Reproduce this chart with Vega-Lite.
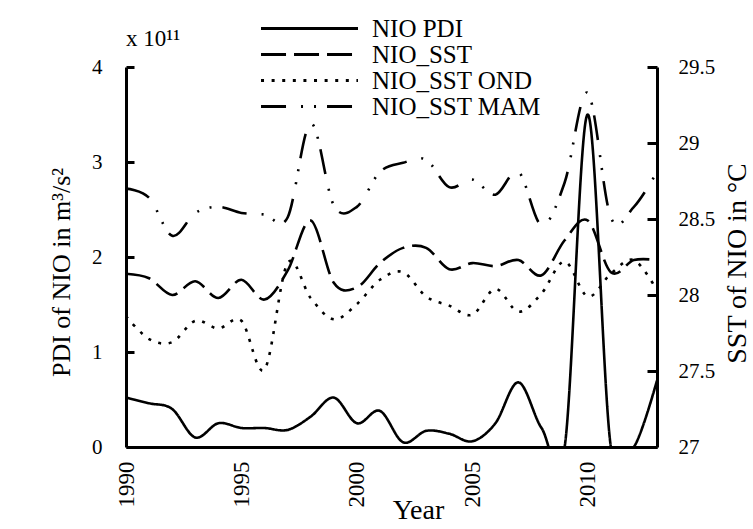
{
  "$schema": "https://vega.github.io/schema/vega-lite/v6.json",
  "autosize": "none",
  "width": 531,
  "height": 380,
  "padding": {"left": 126, "top": 67, "right": 96, "bottom": 82},
  "background": "white",
  "title": {"text": "x 10¹¹", "anchor": "start", "frame": "group", "font": "Liberation Serif", "fontSize": 23, "fontWeight": "normal", "color": "black", "offset": 0, "dy": 35},
  "data": {"values": [
    {"year": 1990, "series": "NIO PDI", "value": 0.52},
    {"year": 1991, "series": "NIO PDI", "value": 0.46},
    {"year": 1992, "series": "NIO PDI", "value": 0.40},
    {"year": 1993, "series": "NIO PDI", "value": 0.10},
    {"year": 1994, "series": "NIO PDI", "value": 0.25},
    {"year": 1995, "series": "NIO PDI", "value": 0.20},
    {"year": 1996, "series": "NIO PDI", "value": 0.20},
    {"year": 1997, "series": "NIO PDI", "value": 0.18},
    {"year": 1998, "series": "NIO PDI", "value": 0.32},
    {"year": 1999, "series": "NIO PDI", "value": 0.52},
    {"year": 2000, "series": "NIO PDI", "value": 0.25},
    {"year": 2001, "series": "NIO PDI", "value": 0.38},
    {"year": 2002, "series": "NIO PDI", "value": 0.05},
    {"year": 2003, "series": "NIO PDI", "value": 0.17},
    {"year": 2004, "series": "NIO PDI", "value": 0.14},
    {"year": 2005, "series": "NIO PDI", "value": 0.06},
    {"year": 2006, "series": "NIO PDI", "value": 0.25},
    {"year": 2007, "series": "NIO PDI", "value": 0.68},
    {"year": 2008, "series": "NIO PDI", "value": 0.20},
    {"year": 2009, "series": "NIO PDI", "value": 0.0},
    {"year": 2010, "series": "NIO PDI", "value": 3.5},
    {"year": 2011, "series": "NIO PDI", "value": 0.0},
    {"year": 2012, "series": "NIO PDI", "value": 0.0},
    {"year": 2013, "series": "NIO PDI", "value": 0.7},
    {"year": 1990, "series": "NIO_SST", "value": 28.14},
    {"year": 1991, "series": "NIO_SST", "value": 28.11},
    {"year": 1992, "series": "NIO_SST", "value": 28.00},
    {"year": 1993, "series": "NIO_SST", "value": 28.09},
    {"year": 1994, "series": "NIO_SST", "value": 27.98},
    {"year": 1995, "series": "NIO_SST", "value": 28.10},
    {"year": 1996, "series": "NIO_SST", "value": 27.97},
    {"year": 1997, "series": "NIO_SST", "value": 28.16},
    {"year": 1998, "series": "NIO_SST", "value": 28.49},
    {"year": 1999, "series": "NIO_SST", "value": 28.08},
    {"year": 2000, "series": "NIO_SST", "value": 28.05},
    {"year": 2001, "series": "NIO_SST", "value": 28.21},
    {"year": 2002, "series": "NIO_SST", "value": 28.31},
    {"year": 2003, "series": "NIO_SST", "value": 28.31},
    {"year": 2004, "series": "NIO_SST", "value": 28.17},
    {"year": 2005, "series": "NIO_SST", "value": 28.21},
    {"year": 2006, "series": "NIO_SST", "value": 28.19},
    {"year": 2007, "series": "NIO_SST", "value": 28.23},
    {"year": 2008, "series": "NIO_SST", "value": 28.13},
    {"year": 2009, "series": "NIO_SST", "value": 28.36},
    {"year": 2010, "series": "NIO_SST", "value": 28.49},
    {"year": 2011, "series": "NIO_SST", "value": 28.15},
    {"year": 2012, "series": "NIO_SST", "value": 28.23},
    {"year": 2013, "series": "NIO_SST", "value": 28.23},
    {"year": 1990, "series": "NIO_SST OND", "value": 27.86},
    {"year": 1991, "series": "NIO_SST OND", "value": 27.71},
    {"year": 1992, "series": "NIO_SST OND", "value": 27.69},
    {"year": 1993, "series": "NIO_SST OND", "value": 27.83},
    {"year": 1994, "series": "NIO_SST OND", "value": 27.78},
    {"year": 1995, "series": "NIO_SST OND", "value": 27.83},
    {"year": 1996, "series": "NIO_SST OND", "value": 27.51},
    {"year": 1997, "series": "NIO_SST OND", "value": 28.21},
    {"year": 1998, "series": "NIO_SST OND", "value": 27.98},
    {"year": 1999, "series": "NIO_SST OND", "value": 27.84},
    {"year": 2000, "series": "NIO_SST OND", "value": 27.94},
    {"year": 2001, "series": "NIO_SST OND", "value": 28.10},
    {"year": 2002, "series": "NIO_SST OND", "value": 28.15},
    {"year": 2003, "series": "NIO_SST OND", "value": 27.99},
    {"year": 2004, "series": "NIO_SST OND", "value": 27.93},
    {"year": 2005, "series": "NIO_SST OND", "value": 27.87},
    {"year": 2006, "series": "NIO_SST OND", "value": 28.04},
    {"year": 2007, "series": "NIO_SST OND", "value": 27.89},
    {"year": 2008, "series": "NIO_SST OND", "value": 28.01},
    {"year": 2009, "series": "NIO_SST OND", "value": 28.22},
    {"year": 2010, "series": "NIO_SST OND", "value": 27.99},
    {"year": 2011, "series": "NIO_SST OND", "value": 28.14},
    {"year": 2012, "series": "NIO_SST OND", "value": 28.23},
    {"year": 2013, "series": "NIO_SST OND", "value": 28.03},
    {"year": 1990, "series": "NIO_SST MAM", "value": 28.70},
    {"year": 1991, "series": "NIO_SST MAM", "value": 28.64},
    {"year": 1992, "series": "NIO_SST MAM", "value": 28.39},
    {"year": 1993, "series": "NIO_SST MAM", "value": 28.54},
    {"year": 1994, "series": "NIO_SST MAM", "value": 28.58},
    {"year": 1995, "series": "NIO_SST MAM", "value": 28.54},
    {"year": 1996, "series": "NIO_SST MAM", "value": 28.53},
    {"year": 1997, "series": "NIO_SST MAM", "value": 28.51},
    {"year": 1998, "series": "NIO_SST MAM", "value": 29.13},
    {"year": 1999, "series": "NIO_SST MAM", "value": 28.59},
    {"year": 2000, "series": "NIO_SST MAM", "value": 28.58},
    {"year": 2001, "series": "NIO_SST MAM", "value": 28.81},
    {"year": 2002, "series": "NIO_SST MAM", "value": 28.87},
    {"year": 2003, "series": "NIO_SST MAM", "value": 28.89},
    {"year": 2004, "series": "NIO_SST MAM", "value": 28.71},
    {"year": 2005, "series": "NIO_SST MAM", "value": 28.76},
    {"year": 2006, "series": "NIO_SST MAM", "value": 28.66},
    {"year": 2007, "series": "NIO_SST MAM", "value": 28.81},
    {"year": 2008, "series": "NIO_SST MAM", "value": 28.46},
    {"year": 2009, "series": "NIO_SST MAM", "value": 28.74},
    {"year": 2010, "series": "NIO_SST MAM", "value": 29.33},
    {"year": 2011, "series": "NIO_SST MAM", "value": 28.51},
    {"year": 2012, "series": "NIO_SST MAM", "value": 28.58},
    {"year": 2013, "series": "NIO_SST MAM", "value": 28.81}
  ]},
  "encoding": {
    "x": {
      "field": "year", "type": "quantitative",
      "scale": {"domain": [1990, 2013], "nice": false, "zero": false},
      "axis": {
        "values": [1990, 1995, 2000, 2005, 2010], "format": "d",
        "labelAngle": -90, "labelPadding": 14, "ticks": false, "grid": false,
        "domainColor": "black", "domainWidth": 3,
        "labelFont": "Liberation Serif", "labelFontSize": 23, "labelColor": "black",
        "title": "Year", "titleFont": "Liberation Serif", "titleFontSize": 28, "titleFontWeight": "normal", "titleColor": "black",
        "titleX": 292, "titleY": 71, "titleBaseline": "alphabetic", "titleAlign": "center"
      }
    },
    "strokeDash": {
      "field": "series", "type": "nominal",
      "scale": {
        "domain": ["NIO PDI", "NIO_SST", "NIO_SST OND", "NIO_SST MAM"],
        "range": [[1, 0], [25, 8], [3, 7.6], [25, 15, 2, 11, 2, 11]]
      },
      "legend": {
        "orient": "none", "legendX": 171, "legendY": -51, "title": null,
        "symbolType": "M-10,0H10", "symbolSize": 94, "symbolStrokeWidth": 3, "symbolStrokeColor": "black",
        "labelFont": "Liberation Serif", "labelFontSize": 25, "labelColor": "black", "labelOffset": 50, "labelLimit": 300,
        "rowPadding": 0
      }
    }
  },
  "layer": [
    {
      "transform": [{"filter": "datum.series === 'NIO PDI'"}],
      "mark": {"type": "line", "color": "black", "strokeWidth": 2.6, "interpolate": "cardinal", "clip": true},
      "encoding": {
        "y": {
          "field": "value", "type": "quantitative",
          "scale": {"domain": [0, 4], "nice": false},
          "axis": {
            "orient": "left", "values": [0, 1, 2, 3, 4], "grid": false,
            "domainColor": "black", "domainWidth": 3,
            "tickColor": "black", "tickWidth": 3, "tickSize": -8, "labelPadding": 32,
            "labelFont": "Liberation Serif", "labelFontSize": 21, "labelColor": "black",
            "title": "PDI of NIO in m³/s²", "titleFont": "Liberation Serif", "titleFontSize": 26, "titleFontWeight": "normal", "titleColor": "black",
            "titleAngle": -90, "titleX": -65, "titleY": 205, "titleBaseline": "middle", "titleAlign": "center"
          }
        }
      }
    },
    {
      "transform": [{"filter": "datum.series !== 'NIO PDI'"}],
      "mark": {"type": "line", "color": "black", "strokeWidth": 2.6, "interpolate": "cardinal", "clip": true},
      "encoding": {
        "y": {
          "field": "value", "type": "quantitative",
          "scale": {"domain": [27, 29.5], "nice": false, "zero": false},
          "axis": {
            "orient": "right", "values": [27, 27.5, 28, 28.5, 29, 29.5], "format": ".1~f", "grid": false,
            "domainColor": "black", "domainWidth": 3,
            "tickColor": "black", "tickWidth": 3, "tickSize": -10, "labelPadding": 31,
            "labelFont": "Liberation Serif", "labelFontSize": 21, "labelColor": "black",
            "title": "SST of NIO in °C", "titleFont": "Liberation Serif", "titleFontSize": 28, "titleFontWeight": "normal", "titleColor": "black",
            "titleAngle": -90, "titleX": 80, "titleY": 196, "titleBaseline": "middle", "titleAlign": "center"
          }
        },
        "detail": {"field": "series"}
      }
    }
  ],
  "resolve": {"scale": {"y": "independent"}},
  "config": {"view": {"stroke": null}}
}
